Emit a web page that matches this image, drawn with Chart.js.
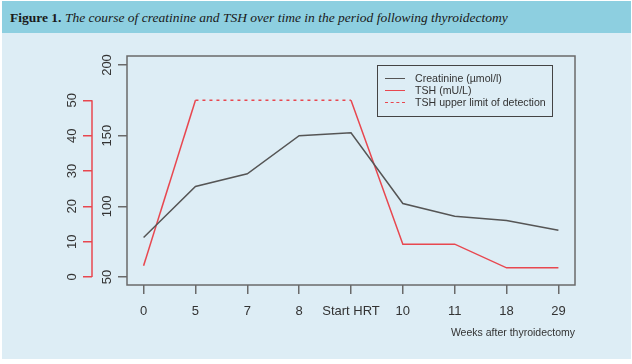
<!DOCTYPE html>
<html lang="en">
<head>
  <meta charset="UTF-8">
  <title>Creatinine and TSH after thyroidectomy</title>
  <script src="https://cdn.jsdelivr.net/npm/chart.js"></script>
  <style>
    body {
      margin: 0;
      background: #fff;
      width: 632px;
      height: 364px;
      position: relative;
      overflow: hidden;
      font-family: "Liberation Sans", Arial, sans-serif;
    }
    #title {
      position: absolute;
      left: 2px;
      top: 1px;
      width: 629px;
      height: 32px;
      background: #8dcfe0;
      font-family: "Liberation Serif", serif;
      font-size: 13.5px;
      line-height: 33px;
      color: #1a1a1a;
      white-space: nowrap;
    }
    #title span { padding-left: 8px; }
    #panel {
      position: absolute;
      left: 2px;
      top: 33px;
      width: 629px;
      height: 326px;
      background: #ddedf5;
    }
    #legend {
      position: absolute;
      left: 375px;
      top: 32px;
      width: 176px;
      height: 52px;
      box-sizing: border-box;
      border: 1px solid #444;
      font-size: 10.6px;
      color: #333;
    }
    .row { position: absolute; left: 0; height: 12px; line-height: 12px; }
    .row .sample { position: absolute; left: 7px; top: 6px; width: 20px; border-top: 1.5px solid; }
    .row .label { position: absolute; left: 37px; top: 0; white-space: nowrap; }
  </style>
</head>
<body>

  <div id="title"><span><b>Figure 1.</b> <i>The course of creatinine and TSH over time in the period following thyroidectomy</i></span></div>
  <div id="panel">
    <canvas id="chart" width="629" height="326"></canvas>
    <div id="legend">
      <div class="row" style="top:6px"><span class="sample" style="border-color:#555"></span><span class="label">Creatinine (µmol/l)</span></div>
      <div class="row" style="top:18px"><span class="sample" style="border-color:#e8474f"></span><span class="label">TSH (mU/L)</span></div>
      <div class="row" style="top:30px"><span class="sample" style="border-top:1.5px dashed #e8474f"></span><span class="label">TSH upper limit of detection</span></div>
    </div>
  </div>

  <script>
    const weeks = ['0', '5', '7', '8', 'Start HRT', '10', '11', '18', '29'];
    const creatinine = [78, 114, 123, 150, 152, 102, 93, 90, 83];
    const tsh = [3.2, 50, 50, 50, 50, 9.3, 9.3, 2.6, 2.6];
    const tshAtLimit = [false, true, true, true, true, false, false, false, false];
    const creatinineTicks = [50, 100, 150, 200];
    const tshTicks = [0, 10, 20, 30, 40, 50];

    const grey = '#555';
    const red = '#e8474f';
    Chart.defaults.font.family = '"Liberation Sans", Arial, sans-serif';

    // box round the plot and the short red axis line (0 to 50 only)
    const frame = {
      id: 'frame',
      beforeDatasetsDraw(chart) {
        const a = chart.chartArea, ctx = chart.ctx;
        ctx.save();
        ctx.strokeStyle = '#6a6a6a';
        ctx.lineWidth = 1.5;
        ctx.strokeRect(a.left, a.top, a.right - a.left, a.bottom - a.top);
        ctx.restore();
      },
      afterDraw(chart) {
        const s = chart.scales.y2, ctx = chart.ctx;
        ctx.save();
        ctx.strokeStyle = red;
        ctx.lineWidth = 1.5;
        ctx.beginPath();
        ctx.moveTo(s.right, s.getPixelForValue(tshTicks[0]));
        ctx.lineTo(s.right, s.getPixelForValue(tshTicks[tshTicks.length - 1]));
        ctx.stroke();
        ctx.restore();
      }
    };

    new Chart(document.getElementById('chart'), {
      type: 'line',
      data: {
        datasets: [{
          label: 'Creatinine (µmol/l)',
          data: creatinine.map((v, i) => ({ x: i, y: v })),
          yAxisID: 'y',
          borderColor: grey,
          borderWidth: 1.5,
          pointRadius: 0,
          tension: 0
        }, {
          label: 'TSH (mU/L)',
          data: tsh.map((v, i) => ({ x: i, y: v })),
          yAxisID: 'y2',
          borderColor: red,
          borderWidth: 1.5,
          pointRadius: 0,
          tension: 0,
          segment: {
            borderDash: ctx => (tshAtLimit[ctx.p0DataIndex] && tshAtLimit[ctx.p1DataIndex]) ? [3, 4] : undefined
          }
        }]
      },
      options: {
        responsive: false,
        animation: false,
        layout: { padding: { left: 60, right: 56, top: 23, bottom: 18 } },
        plugins: { legend: { display: false }, tooltip: { enabled: false } },
        scales: {
          x: {
            type: 'linear',
            min: -0.32,
            max: 8.32,
            afterBuildTicks: s => { s.ticks = weeks.map((w, i) => ({ value: i })); },
            afterFit: s => { s.height = 56; },
            ticks: {
              callback: v => weeks[v],
              autoSkip: false,
              maxRotation: 0,
              padding: 10,
              color: '#333',
              font: { size: 13 }
            },
            grid: { drawOnChartArea: false, tickLength: 9, color: '#6a6a6a', lineWidth: 1.5 },
            border: { display: false },
            title: {
              display: true,
              text: 'Weeks after thyroidectomy',
              align: 'end',
              color: '#333',
              font: { size: 10.5 },
              padding: { top: 0, bottom: 2 }
            }
          },
          y: {
            type: 'linear',
            position: 'left',
            weight: 0,
            min: 44.34,
            max: 206.37,
            afterBuildTicks: s => { s.ticks = creatinineTicks.map(v => ({ value: v })); },
            afterFit: s => { s.width = 35; },
            ticks: {
              minRotation: 90,
              maxRotation: 90,
              crossAlign: 'center',
              padding: 0,
              color: '#333',
              font: { size: 13 }
            },
            grid: { drawOnChartArea: false, tickLength: 9, color: '#6a6a6a', lineWidth: 1.5 },
            border: { display: false }
          },
          y2: {
            type: 'linear',
            position: 'left',
            weight: 1,
            min: -2.264,
            max: 62.55,
            afterBuildTicks: s => { s.ticks = tshTicks.map(v => ({ value: v })); },
            afterFit: s => { s.width = 30; },
            ticks: {
              minRotation: 90,
              maxRotation: 90,
              crossAlign: 'center',
              padding: 3,
              color: '#333',
              font: { size: 13 }
            },
            grid: { drawOnChartArea: false, tickLength: 9, color: red, lineWidth: 1.5 },
            border: { display: false }
          }
        }
      },
      plugins: [frame]
    });
  </script>

</body>
</html>
